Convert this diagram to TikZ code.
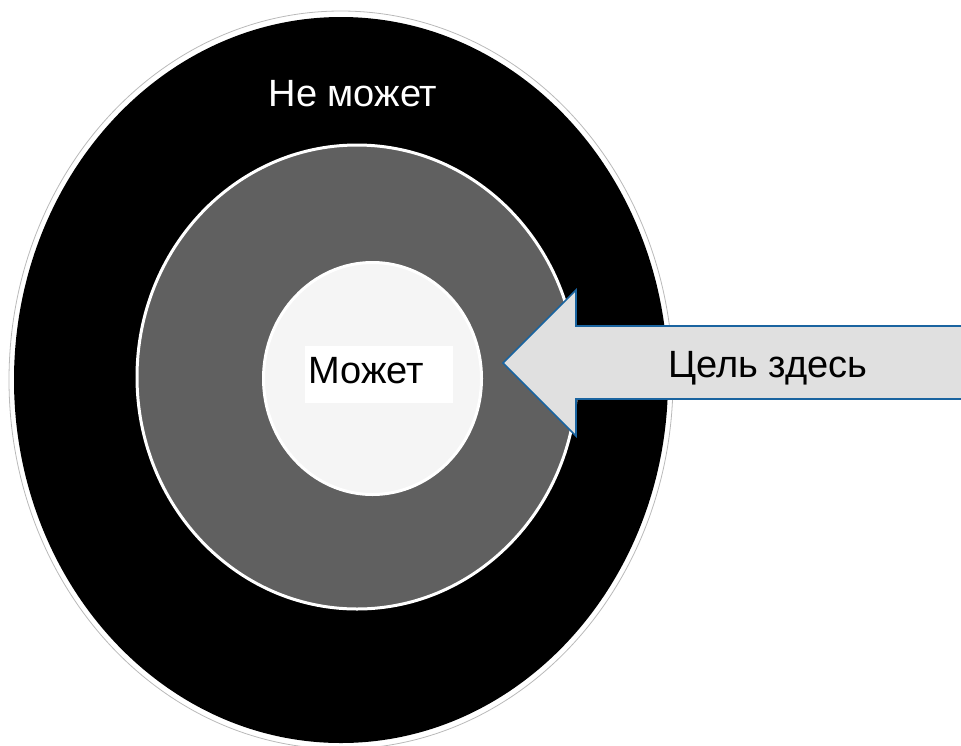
\documentclass[tikz,border=0pt]{standalone}
\usepackage{fontspec}
\setmainfont{Liberation Sans}
\definecolor{ringgray}{HTML}{606060}
\definecolor{coregray}{HTML}{F5F5F5}
\definecolor{arrowfill}{HTML}{E0E0E0}
\definecolor{arrowline}{HTML}{1A64A0}
\tikzset{
  lbl/.style={font=\fontsize{38}{41}\selectfont, inner sep=0pt, anchor=base},
  ring/.style={draw=white, line width=3pt}
}
\begin{document}
\begin{tikzpicture}[x=1pt,y=-1pt]
\useasboundingbox (0,0) rectangle (961,745);
% outer thin outline
\draw[gray!55, line width=0.8pt] (341,380) ellipse [x radius=332pt, y radius=369pt];
% black ring
\fill[black] (341,380) ellipse [x radius=327pt, y radius=363pt];
% gray ring
\filldraw[ring, fill=ringgray] (357,377) ellipse [x radius=220pt, y radius=232pt];
% inner circle
\filldraw[ring, fill=coregray] (372.5,378.5) ellipse [x radius=109pt, y radius=116pt];
% white label box
\fill[white] (305,346) rectangle (453,403);
\node[lbl] (can) at (366,383) {Может};
\node[lbl, text=white] (cannot) at (353,106) {Не может};
% arrow
\filldraw[fill=arrowfill, draw=arrowline, line width=1.6pt, line join=miter]
  (503,363) -- (576,290) -- (576,326) -- (970,326) -- (970,399) -- (576,399) -- (576,436) -- cycle;
\node[lbl] (goal) at (768,377) {Цель здесь};
\end{tikzpicture}
\end{document}
